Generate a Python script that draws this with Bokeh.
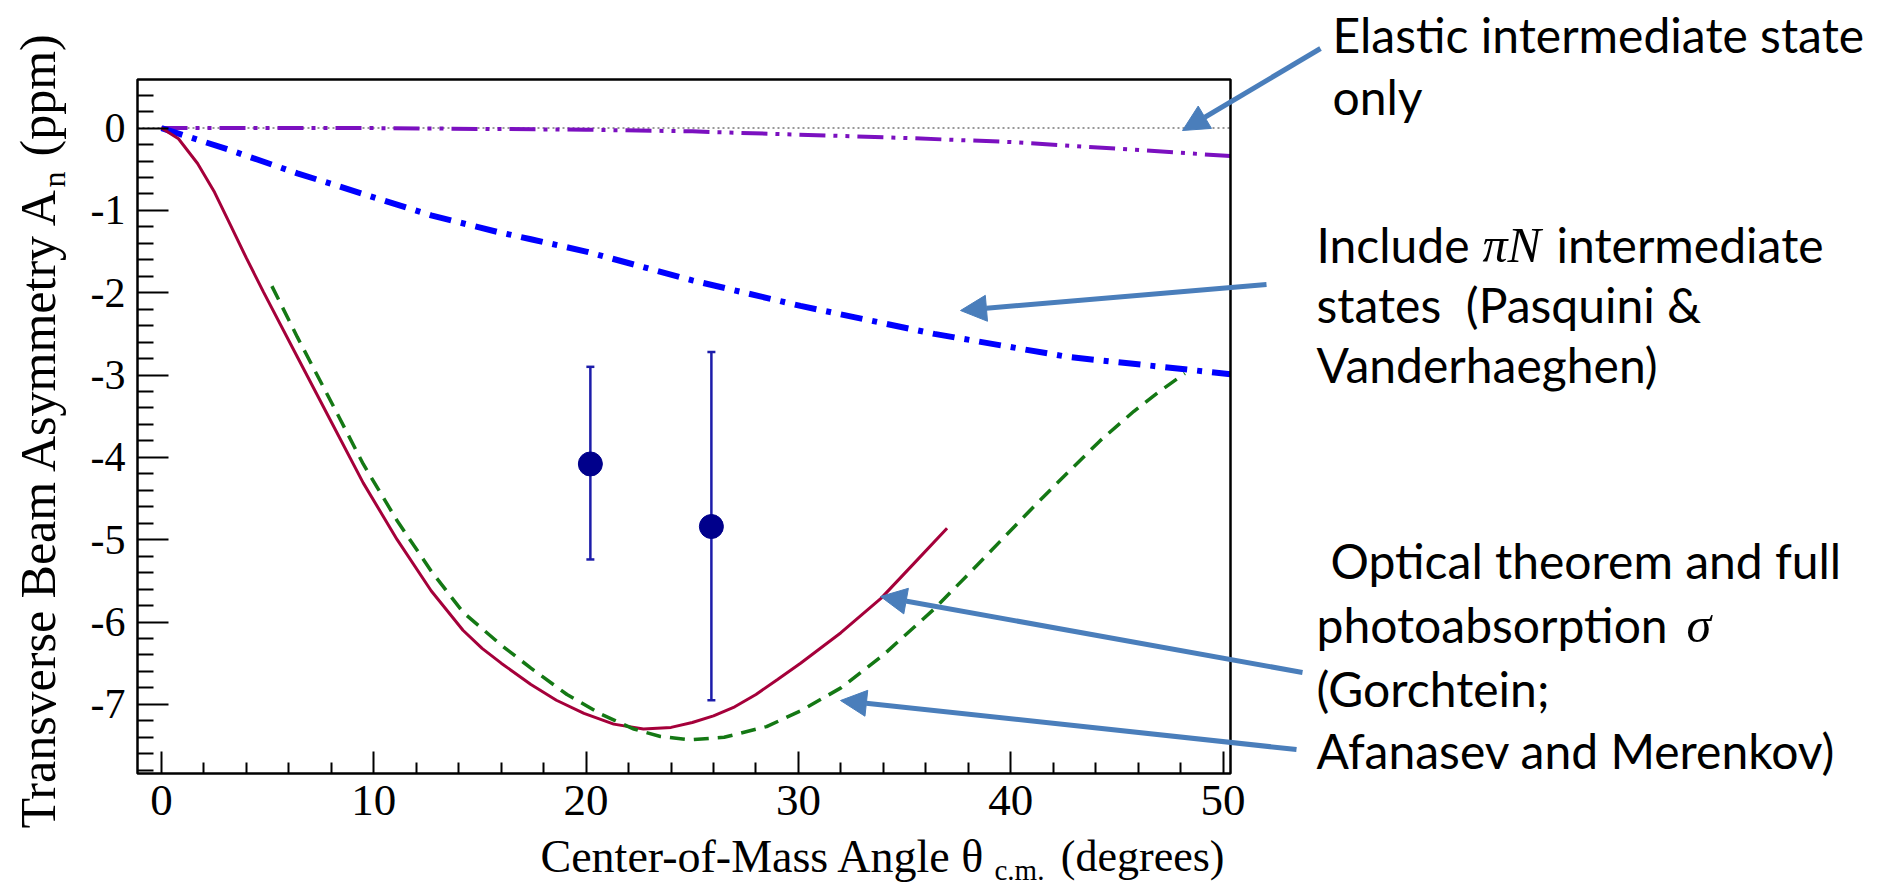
import numpy as np
from bokeh.plotting import figure
from bokeh.models import (Range1d, Label, Arrow, NormalHead, TeeHead, Whisker,
                          ColumnDataSource, FixedTicker, BoxAnnotation)
from bokeh.embed import file_html
from bokeh.resources import INLINE

# ---------------- data ----------------
elastic_x = [0, 10, 20, 25, 30, 35, 40, 45, 50.35]
elastic_y = [0, 0.0, -0.02, -0.04, -0.08, -0.12, -0.17, -0.25, -0.34]

pin_x = [0, 3.25, 6.4, 9.5, 12.7, 15.8, 17.4, 20.0, 25.0, 30.1, 36.4, 42.7, 48.2, 50.35]
pin_y = [0, -0.27, -0.55, -0.80, -1.06, -1.26, -1.35, -1.50, -1.85, -2.16, -2.50, -2.78, -2.93, -2.99]

gorch_x = [0, 0.8, 1.7, 2.5, 3.25, 4.0, 4.8, 6.4, 8.0, 9.5, 11.1, 12.7, 14.2, 15.1, 16.0, 17.4, 18.6,
           19.9, 21.3, 22.7, 24.0, 25.0, 26.0, 27.0, 28.0, 29.0, 30.1, 32.0, 33.9, 35.4, 37.0]
gorch_y = [0, -0.13, -0.43, -0.78, -1.18, -1.58, -1.99, -2.78, -3.57, -4.31, -5.0, -5.62, -6.10, -6.32,
           -6.50, -6.76, -6.95, -7.11, -7.24, -7.30, -7.28, -7.22, -7.14, -7.03, -6.88, -6.70, -6.50,
           -6.13, -5.71, -5.30, -4.86]

afan_x = [5.2, 6.4, 8.0, 9.5, 11.1, 12.7, 14.2, 16.0, 17.4, 19.1, 20.7, 22.25, 23.5, 24.9,
          26.5, 28.5, 30.1, 32.0, 34.0, 36.4, 38.0, 39.5, 41.0, 42.7, 44.2, 45.8, 47.0, 48.2]
afan_y = [-1.92, -2.54, -3.33, -4.08, -4.77, -5.38, -5.88, -6.28, -6.56, -6.88, -7.12, -7.30,
          -7.39, -7.43, -7.40, -7.27, -7.08, -6.80, -6.40, -5.84, -5.42, -5.02, -4.62, -4.18,
          -3.80, -3.44, -3.20, -2.98]

meas_x = [20.2, 25.9]
meas_y = [-4.08, -4.84]
meas_lo = [-5.24, -6.95]
meas_hi = [-2.90, -2.72]

x_ticks = [0, 10, 20, 30, 40, 50]
x_tick_labels = ["0", "10", "20", "30", "40", "50"]
y_ticks = [0, -1, -2, -3, -4, -5, -6, -7]
y_tick_labels = ["0", "-1", "-2", "-3", "-4", "-5", "-6", "-7"]

# ---------------- layout ----------------
W, H = 1881, 888
FL, FR, FT, FB = 137, 1230, 79, 773      # inner (ROOT-style) frame in pixels
X0, X1 = -1.13, 50.35
Y0, Y1 = -7.84, 0.59
sx = (X1 - X0) / (FR - FL)
sy = (Y1 - Y0) / (FB - FT)


def dx(px):
    return X0 + (px - FL) * sx


def dy(py):
    return Y1 - (py - FT) * sy


p = figure(width=W, height=H,
           x_range=Range1d(dx(0), dx(W)), y_range=Range1d(dy(H), dy(0)),
           output_backend="svg", toolbar_location=None,
           min_border=0, min_border_left=0, min_border_right=0,
           min_border_top=0, min_border_bottom=0)
p.background_fill_color = "white"
p.border_fill_color = "white"
p.outline_line_color = None
p.xgrid.visible = False
p.ygrid.visible = False

SERIF = "Liberation Serif"

x_minor = [v for v in range(2, 50, 2) if v % 10]
y_minor = [round(-7.8 + 0.2 * i, 1) for i in range(42) if (i + 1) % 5 != 0]
p.xaxis.ticker = FixedTicker(ticks=x_ticks, minor_ticks=x_minor)
p.yaxis.ticker = FixedTicker(ticks=y_ticks, minor_ticks=y_minor)
p.xaxis.major_label_overrides = dict(zip(x_ticks, x_tick_labels))
p.yaxis.major_label_overrides = dict(zip(y_ticks, y_tick_labels))
p.xaxis.fixed_location = Y0
p.yaxis.fixed_location = X0
for ax, tin, mtin, fs, so in [(p.xaxis, 22, 11, "45px", 12), (p.yaxis, 31, 16, "42px", 12)]:
    ax.major_tick_in = tin
    ax.major_tick_out = 0
    ax.minor_tick_in = mtin
    ax.minor_tick_out = 0
    ax.major_tick_line_width = 2
    ax.minor_tick_line_width = 2
    ax.major_tick_line_color = "black"
    ax.minor_tick_line_color = "black"
    ax.axis_line_color = None
    ax.major_label_text_font = SERIF
    ax.major_label_text_font_size = fs
    ax.major_label_text_color = "black"
    ax.major_label_standoff = so
    ax.axis_label = None

# frame box
p.add_layout(BoxAnnotation(left=X0, right=X1, bottom=Y0, top=Y1, fill_alpha=0,
                           line_color="black", line_width=2.5, line_alpha=1))

# zero reference line (across the frame)
p.line([X0, X1], [0, 0], line_color="#777777", line_width=1.5, line_dash="2 3")

p.line(elastic_x, elastic_y, line_color="#7b10c0", line_width=4,
       line_dash="26 8 4 8 4 8")
p.line(pin_x, pin_y, line_color="#0000ff", line_width=6, line_dash="22 10 5 10")
p.line(gorch_x, gorch_y, line_color="#a5003a", line_width=3)
p.line(afan_x, afan_y, line_color="#147814", line_width=3.5, line_dash="15 9")

src = ColumnDataSource(dict(x=meas_x, y=meas_y, lo=meas_lo, hi=meas_hi))
EB = "#1c1caa"
p.add_layout(Whisker(source=src, base="x", lower="lo", upper="hi", line_color=EB,
                     line_width=2.5,
                     lower_head=TeeHead(size=8, line_color=EB, line_width=2.5),
                     upper_head=TeeHead(size=8, line_color=EB, line_width=2.5)))
p.scatter("x", "y", source=src, size=24, fill_color="#00008b", line_color="#00008b")


def lab(text, px, py, size, font=SERIF, align="left", angle=0.0, style="normal"):
    p.add_layout(Label(x=dx(px), y=dy(py), text=text, angle=angle, text_align=align,
                       text_baseline="middle", text_font=font, text_font_style=style,
                       text_font_size=f"{size}px", text_color="black"))


# y-axis title (rotated, reads bottom to top)
lab("Transverse Beam Asymmetry A", 37, 828, 50, angle=np.pi / 2)
lab("n", 53, 187, 32, angle=np.pi / 2)
lab("(ppm)", 37, 156, 50, angle=np.pi / 2)

# x-axis title
lab("Center-of-Mass Angle \u03b8", 540, 856, 46)
lab("c.m.", 994, 869, 29)
lab("(degrees)", 1224, 856, 44, align="right")

# annotations on the right
SANS = "Lato"
notes = [
    ("Elastic intermediate state", 1332, 34),
    ("only", 1332, 96),
    ("Include", 1316, 244),
    ("intermediate", 1556, 244),
    ("states\u00a0\u00a0(Pasquini &", 1316, 304),
    ("Vanderhaeghen)", 1316, 364),
    ("Optical theorem and full", 1330, 560),
    ("photoabsorption", 1316, 624),
    ("(Gorchtein;", 1316, 688),
    ("Afanasev and Merenkov)", 1316, 750),
]
for t, px, py in notes:
    lab(t, px, py, 48, font=SANS)
lab("\u03c0N", 1482, 244, 50, font=SERIF, style="italic")
lab("\u03c3", 1686, 624, 50, font=SERIF, style="italic")

AC = "#4a7ebb"
arrows = [((1320, 48), (1182, 130)),
          ((1266, 284), (960, 310)),
          ((1302, 672), (880, 596)),
          ((1296, 749), (840, 700))]
for (ax0, ay0), (ax1, ay1) in arrows:
    p.add_layout(Arrow(x_start=dx(ax0), y_start=dy(ay0), x_end=dx(ax1), y_end=dy(ay1),
                       line_color=AC, line_width=5,
                       end=NormalHead(size=26, fill_color=AC, line_color=AC, line_width=1)))

open("out.html", "w").write(file_html(p, INLINE))
